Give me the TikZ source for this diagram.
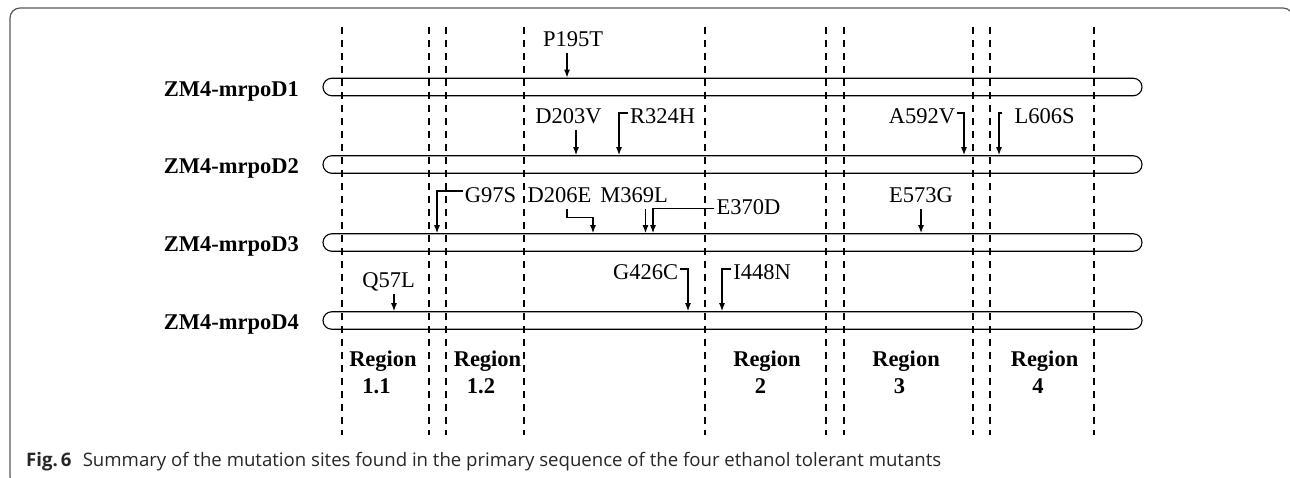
\documentclass[tikz,border=0pt]{standalone}
\usepackage{fontspec}
\setmainfont{Liberation Serif}
\newfontfamily\capfont{Open Sans}
\usetikzlibrary{arrows.meta}
\begin{document}
\begin{tikzpicture}[x=1pt,y=-1pt,
  lbl/.style={font=\fontsize{22.5}{27}\selectfont, inner xsep=2pt, inner ysep=7pt, text height=15pt, text depth=0pt, anchor=base},
  strain/.style={font=\fontsize{22.5}{27}\selectfont\bfseries, inner sep=0pt, anchor=base east},
  region/.style={font=\fontsize{22.5}{27}\selectfont\bfseries, inner sep=0pt, anchor=base, align=center},
  bar/.style={draw, line width=1.1pt, rounded corners=8.75pt, minimum width=819pt, minimum height=17.5pt, inner sep=0pt},
  divider/.style={line width=1.3pt, dash pattern=on 7pt off 6pt},
  arr/.style={line width=1.4pt, -{Latex[length=8pt,width=6pt]}},
  frame/.style={draw=black!65, line width=1.2pt, rounded corners=10pt},
]
\useasboundingbox (0,0) rectangle (1290,477);
\draw[frame] (10,8) rectangle (1293,487);

% sequence bars
\node[bar] (b1) at (732.5,87) {};
\node[bar] (b2) at (732.5,164.5) {};
\node[bar] (b3) at (732.5,242.5) {};
\node[bar] (b4) at (732.5,320.5) {};

% strain names
\node[strain] (s1) at (299,96.5) {ZM4-mrpoD1};
\node[strain] (s2) at (299,173.5) {ZM4-mrpoD2};
\node[strain] (s3) at (299,251) {ZM4-mrpoD3};
\node[strain] (s4) at (299,329) {ZM4-mrpoD4};

% region dividers
\foreach \xx in {342,429,446,524,705,826,844,973,990,1094}
  \draw[divider] (\xx,27) -- (\xx,435);

% region labels
\node[region] (r11) at (383,393) {Region\\1.1\kern13pt};
\node[region] (r12) at (487.5,393) {Region\\1.2\kern13pt};
\node[region] (r2) at (767,393) {Region\\2\kern13pt};
\node[region] (r3) at (906,393) {Region\\3\kern13pt};
\node[region] (r4) at (1044.5,393) {Region\\4\kern13pt};

% ZM4-mrpoD1
\node[lbl] (p195) at (573,46) {P195T};
\draw[arr] (p195.south -| 567,0) -- (b1.north -| 567,0);

% ZM4-mrpoD2
\node[lbl] (d203) at (568.5,123) {D203V};
\node[lbl] (r324) at (662.5,123) {R324H};
\node[lbl] (a592) at (922,123) {A592V};
\node[lbl] (l606) at (1044.5,123) {L606S};
\draw[arr] (d203.south -| 576,0) -- (b2.north -| 576,0);
\draw[arr] ([yshift=2.5pt]r324.west) -| (b2.north -| 619,0);
\draw[arr] ([yshift=2.5pt]a592.east) -| (b2.north -| 964,0);
\draw[arr] ([xshift=-10pt,yshift=2.5pt]l606.west) -| (b2.north -| 999,0);

% ZM4-mrpoD3
\node[lbl] (g97) at (490.5,202) {G97S};
\node[lbl] (d206) at (559.5,202) {D206E};
\node[lbl] (m369) at (634,202) {M369L};
\node[lbl] (e370) at (748.5,214) {E370D};
\node[lbl] (e573) at (921,202) {E573G};
\draw[arr] ([yshift=3.5pt]g97.west) -| (b3.north -| 437,0);
\draw[arr] (d206.south -| 567,0) -- ++(0,8) -| (b3.north -| 593,0);
\draw[arr] (m369.south -| 645.5,0) -- (b3.north -| 645.5,0);
\draw[arr] ([yshift=-2pt]e370.west) -| (b3.north -| 653,0);
\draw[arr] (e573.south -| 921,0) -- (b3.north -| 921,0);

% ZM4-mrpoD4
\node[lbl] (q57) at (388.5,287) {Q57L};
\node[lbl] (g426) at (645.5,279) {G426C};
\node[lbl] (i448) at (762,279) {I448N};
\draw[arr] (q57.south -| 394,0) -- (b4.north -| 394,0);
\draw[arr] ([yshift=2.5pt]g426.east) -| (b4.north -| 688,0);
\draw[arr] ([yshift=2.5pt]i448.west) -| (b4.north -| 722,0);

% caption
\node[anchor=base west, inner sep=0pt, font=\capfont\fontsize{18.6}{21}\selectfont, text=black!85] (cap) at (26,466.5)
  {\textbf{Fig.\,6}\hspace{0.6em}Summary of the mutation sites found in the primary sequence of the four ethanol tolerant mutants};
\end{tikzpicture}
\end{document}
